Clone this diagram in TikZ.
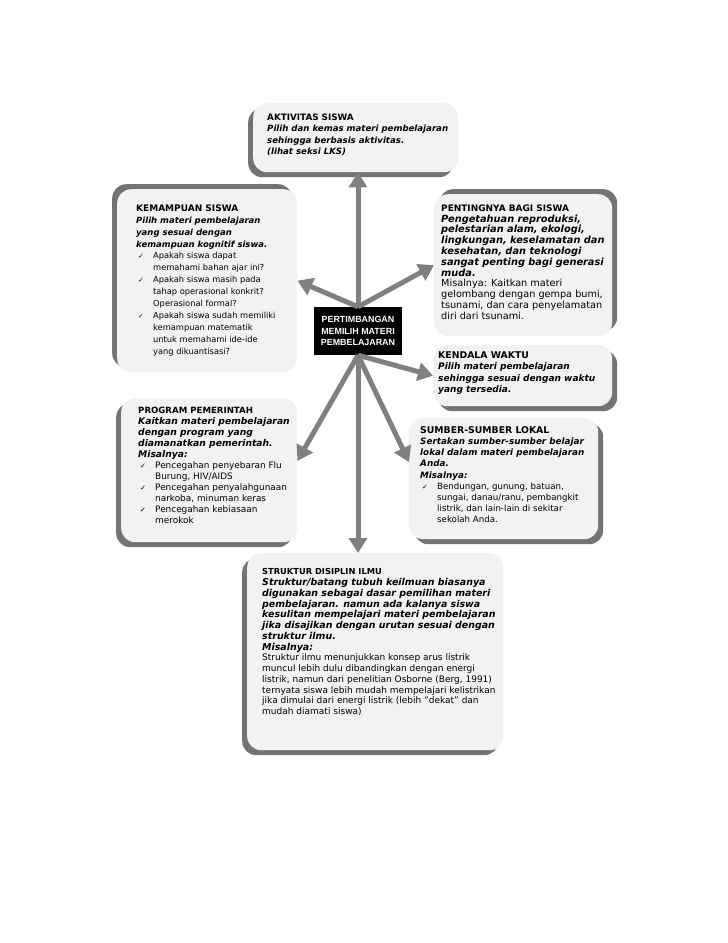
\documentclass[tikz,border=0pt]{standalone}
\usepackage{fontspec}
\setmainfont{DejaVu Sans}
\newfontfamily\ctrfont{Liberation Sans}
\usetikzlibrary{arrows.meta,shadows}

\newcommand\judul[2]{{\fontsize{#1}{\the\baselineskip}\selectfont\bfseries #2\par}}
\newcommand\miring[2]{{\fontsize{#1}{\the\baselineskip}\selectfont\bfseries\itshape #2\par}}
\newcommand\cek[1]{\par\noindent\hangindent=17pt\hangafter=1\makebox[17pt][l]{\hspace{2pt}\scalebox{0.8}{✓}}#1\par}

\tikzset{
  kotak/.style={fill=black!5, rounded corners=14pt, anchor=north west, inner sep=0pt},
  teks/.style={anchor=north west, inner sep=0pt},
  isi/.style 2 args={font=\fontsize{#1}{#2}\selectfont},
  bayang/.style 2 args={general shadow={fill=black!55, shadow xshift=#1, shadow yshift=#2}},
  panah/.style={draw=black!50, line width=5pt, -{Triangle[length=15pt,width=18pt]}},
  pusat/.style={fill=black, text=white, minimum width=88pt, minimum height=48pt, align=center,
    font=\ctrfont\bfseries\fontsize{8.9}{11.7}\selectfont}
}

\begin{document}
\begin{tikzpicture}[x=1pt,y=-1pt]
  \useasboundingbox (0,0) rectangle (728,943);

  \node[kotak, bayang={-5pt}{-5pt}, minimum width=205pt, minimum height=69pt] (akt) at (253,103) {};
  \node[teks, isi={8.6}{11.4}] (akt-t) at (267,113.5)
    {\parbox[t]{240pt}{\raggedright
      \judul{8.8}{AKTIVITAS SISWA}
      \miring{8.6}{Pilih dan kemas materi pembelajaran\\ sehingga berbasis aktivitas.\\ (lihat seksi LKS)}}};

  \node[kotak, bayang={-5pt}{5pt}, minimum width=180pt, minimum height=183pt] (kem) at (117,189) {};
  \node[teks, isi={8.3}{11.9}] (kem-t) at (136,204.5)
    {\parbox[t]{200pt}{\raggedright
      \judul{9}{KEMAMPUAN SISWA}
      \miring{8.5}{Pilih materi pembelajaran\\ yang sesuai dengan\\ kemampuan kognitif siswa.}
      \cek{Apakah siswa dapat\newline memahami bahan ajar ini?}
      \cek{Apakah siswa masih pada\newline tahap operasional konkrit?\newline Operasional formal?}
      \cek{Apakah siswa sudah memiliki\newline kemampuan matematik\newline untuk memahami ide-ide\newline yang dikuantisasi?}}};

  \node[kotak, bayang={5pt}{5pt}, minimum width=178pt, minimum height=142pt] (pen) at (434,194) {};
  \node[teks, isi={9.7}{10.8}] (pen-t) at (441,204.5)
    {\parbox[t]{220pt}{\raggedright
      \judul{8.95}{PENTINGNYA BAGI SISWA}
      \miring{9.8}{Pengetahuan reproduksi,\\ pelestarian alam, ekologi,\\ lingkungan, keselamatan dan\\ kesehatan, dan teknologi\\ sangat penting bagi generasi\\ muda.}
      Misalnya: Kaitkan materi\\ gelombang dengan gempa bumi,\\ tsunami, dan cara penyelamatan\\ diri dari tsunami.}};

  \node[kotak, bayang={5pt}{-5pt}, minimum width=179pt, minimum height=61pt] (ken) at (433,345) {};
  \node[teks, isi={9}{11.4}] (ken-t) at (438,351.5)
    {\parbox[t]{220pt}{\raggedright
      \judul{9.3}{KENDALA WAKTU}
      \miring{9}{Pilih materi pembelajaran\\ sehingga sesuai dengan waktu\\ yang tersedia.}}};

  \node[kotak, bayang={-5pt}{-5pt}, minimum width=176pt, minimum height=144pt] (prg) at (121,398) {};
  \node[teks, isi={8.9}{11}] (prg-t) at (138,406.5)
    {\parbox[t]{220pt}{\raggedright
      \judul{8.6}{PROGRAM PEMERINTAH}
      \miring{9.2}{Kaitkan materi pembelajaran\\ dengan program yang\\ diamanatkan pemerintah.\\ Misalnya:}
      \cek{Pencegahan penyebaran Flu\newline Burung, HIV/AIDS}
      \cek{Pencegahan penyalahgunaan\newline narkoba, minuman keras}
      \cek{Pencegahan kebiasaan\newline merokok}}};

  \node[kotak, bayang={5pt}{-5pt}, minimum width=189pt, minimum height=121pt] (sum) at (409,418) {};
  \node[teks, isi={8.65}{11.1}] (sum-t) at (420,426.5)
    {\parbox[t]{220pt}{\raggedright
      \judul{9.3}{SUMBER-SUMBER LOKAL}
      \miring{8.8}{Sertakan sumber-sumber belajar\\ lokal dalam materi pembelajaran\\ Anda.\\ Misalnya:}
      \cek{Bendungan, gunung, batuan,\newline sungai, danau/ranu, pembangkit\newline listrik, dan lain-lain di sekitar\newline sekolah Anda.}}};

  \node[kotak, bayang={-5pt}{-5pt}, minimum width=256pt, minimum height=197pt] (str) at (247,553) {};
  \node[teks, isi={9}{10.75}] (str-t) at (262,568.5)
    {\parbox[t]{300pt}{\raggedright
      \judul{8.3}{STRUKTUR DISIPLIN ILMU}
      \miring{9.45}{Struktur/batang tubuh keilmuan biasanya\\ digunakan sebagai dasar pemilihan materi\\ pembelajaran. namun ada kalanya siswa\\ kesulitan mempelajari materi pembelajaran\\ jika disajikan dengan urutan sesuai dengan\\ struktur ilmu.\\ Misalnya:}
      Struktur ilmu menunjukkan konsep arus listrik\\ muncul lebih dulu dibandingkan dengan energi\\ listrik, namun dari penelitian Osborne (Berg, 1991)\\ ternyata siswa lebih mudah mempelajari kelistrikan\\ jika dimulai dari energi listrik (lebih "dekat" dan\\ mudah diamati siswa)}};

  \node[pusat] (ctr) at (358,331) {PERTIMBANGAN\\ MEMILIH MATERI\\ PEMBELAJARAN};

  \draw[panah] (ctr.north) -- (ctr.north |- akt.south);
  \draw[panah] (ctr.north) -- (kem.east);
  \draw[panah] (ctr.north) -- (pen.west);
  \draw[panah] (ctr.south) -- (ken.west);
  \draw[panah] (ctr.south) -- (prg.6);
  \draw[panah] (ctr.south) -- (sum.170);
  \draw[panah] (ctr.south) -- (ctr.south |- str.north);
\end{tikzpicture}
\end{document}
